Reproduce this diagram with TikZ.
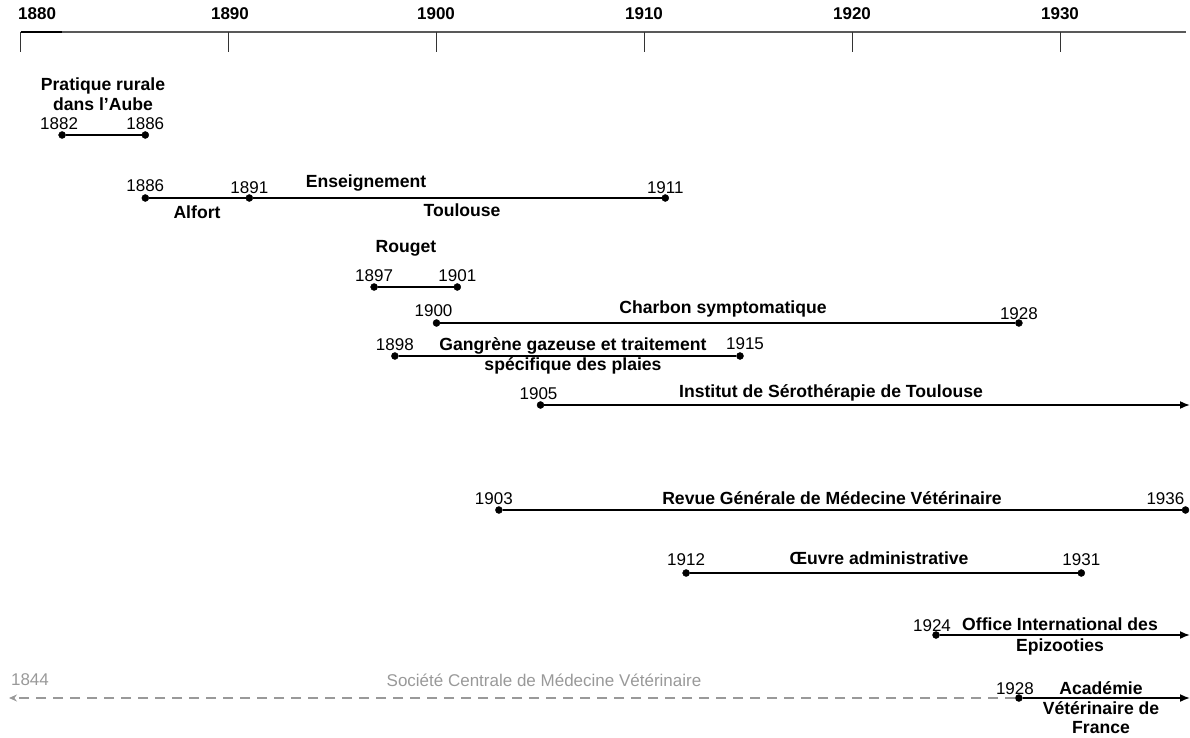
\documentclass[tikz,border=0pt]{standalone}
\usepackage{fontspec}
\setmainfont{Liberation Sans}
\usetikzlibrary{arrows.meta}
\tikzset{dot/.style = {draw, fill=black, circle, inner sep=0pt, minimum size=7pt},
         period/.style = {line width=1.7pt},
         yr/.style = {font=\fontsize{17}{20}\selectfont, inner sep=0pt},
         ttl/.style = {font=\fontsize{17.6}{20.5}\selectfont\bfseries, align=center, inner sep=0pt},
         axlbl/.style = {font=\fontsize{17}{20}\selectfont\bfseries, inner sep=0pt},
         soc/.style = {color=black!40, line width=1.7pt, dash pattern=on 10pt off 7pt}}

\begin{document}
\begin{tikzpicture}[x=1pt,y=-1pt]
        \useasboundingbox (0,0) rectangle (1190,738);
        % time axis
        \coordinate (ax0) at (20.5,32);
        \coordinate (ax1) at (62,32);
        \coordinate (ax2) at (1186,32);
        \draw[line width=1.5pt,black!65](ax0)--(ax2);
        \draw[line width=1.8pt](ax0)--(ax1);
        \foreach \yy/\xx in {1880/20.5,1890/228.5,1900/436.5,1910/644.3,1920/852.3,1930/1060.2}
            \draw[line width=0.9pt,black!80](\xx,32)--(\xx,52);
        \node[axlbl,anchor=west](a1880)at(18,14){1880};
        \foreach \yy/\xx in {1890/230,1900/436,1910/644,1920/852,1930/1060}
            \node[axlbl](a\yy)at(\xx,14){\yy};

        % Pratique rurale
        \node[dot](p82)at(62.1,135){};
        \node[dot](p86)at(145.3,135){};
        \draw[period](p82)--(p86);
        \node[yr,above=5pt,xshift=-3pt](lp82)at(p82){1882};
        \node[yr,above=5pt](lp86)at(p86){1886};
        \node[ttl](tp)at(103,94){Pratique rurale\\dans l’Aube};

        % Enseignement
        \node[dot](e86)at(145.3,198){};
        \node[dot](e91)at(249.3,198){};
        \node[dot](e11)at(665.3,198){};
        \draw[period](e86)--(e91);
        \draw[period](e91)--(e11);
        \node[yr,above=6pt](le86)at(e86){1886};
        \node[yr,above=4pt](le91)at(e91){1891};
        \node[yr,above=4pt](le11)at(e11){1911};
        \node[ttl](te)at(366,183){Enseignement};
        \node[ttl](ta)at(197,212){Alfort};
        \node[ttl](tt)at(462,210){Toulouse};

        % Rouget
        \node[dot](r97)at(374.1,287){};
        \node[dot](r01)at(457.3,287){};
        \draw[period](r97)--(r01);
        \node[yr,above=5pt](lr97)at(r97){1897};
        \node[yr,above=5pt](lr01)at(r01){1901};
        \node[ttl](tr)at(406,248){Rouget};

        % Charbon symptomatique
        \node[dot](c00)at(436.5,323){};
        \node[dot](c28)at(1018.9,323){};
        \draw[period](c00)--(c28);
        \node[yr,above=6pt,xshift=-3pt](lc00)at(c00){1900};
        \node[yr,above=3pt](lc28)at(c28){1928};
        \node[ttl](tc)at(723,309){Charbon symptomatique};

        % Gangrene gazeuse
        \node[dot](g98)at(394.9,356){};
        \node[dot](g15)at(740,356){};
        \draw[period](g98)--(g15);
        \node[yr,above=5pt](lg98)at(g98){1898};
        \node[yr,above=6pt,xshift=5pt](lg15)at(g15){1915};
        \node[ttl](tg)at(573,356){Gangrène gazeuse et traitement\\spécifique des plaies};

        % Institut de Serotherapie
        \node[dot](i05)at(540.5,405){};
        \coordinate(i99)at(1190,405);
        \draw[period,-{Latex[length=10pt,width=8pt]}](i05)--(i99);
        \node[yr,above=5pt,xshift=-2pt](li05)at(i05){1905};
        \node[ttl](ti)at(831,393){Institut de Sérothérapie de Toulouse};

        % Revue Generale
        \node[dot](v03)at(498.9,510){};
        \node[dot](v36)at(1185.5,510){};
        \draw[period](v03)--(v36);
        \node[yr,above=5pt,xshift=-5pt](lv03)at(v03){1903};
        \node[yr,above=5pt,anchor=south east,xshift=-1pt](lv36)at(v36){1936};
        \node[ttl](tv)at(832,498){Revue Générale de Médecine Vétérinaire};

        % Oeuvre administrative
        \node[dot](o12)at(686.1,573){};
        \node[dot](o31)at(1081.3,573){};
        \draw[period](o12)--(o31);
        \node[yr,above=7pt](lo12)at(o12){1912};
        \node[yr,above=7pt](lo31)at(o31){1931};
        \node[ttl](to)at(879,558){Œuvre administrative};

        % Office International des Epizooties
        \node[dot](x24)at(936,635){};
        \coordinate(x99)at(1190,635);
        \draw[period,-{Latex[length=10pt,width=8pt]}](x24)--(x99);
        \node[yr,above=3pt,xshift=-4pt](lx24)at(x24){1924};
        \node[ttl](tx)at(1060,636.5){Office International des\\Epizooties};

        % Societe Centrale / Academie
        \node[dot](k28)at(1018.9,698){};
        \coordinate(k99)at(1190,698);
        \coordinate(s44)at(9,698);
        \draw[soc,-{Stealth[length=8pt,width=7pt]}](k28)--(s44);
        \draw[period,-{Latex[length=10pt,width=8pt]}](k28)--(k99);
        \node[yr,above=3pt,xshift=-4pt](lk28)at(k28){1928};
        \node[yr,black!40](ls44)at(30,680){1844};
        \node[yr,black!40](ts)at(544,680){Société Centrale de Médecine Vétérinaire};
        \node[ttl,font=\fontsize{17.6}{19.5}\selectfont\bfseries](tk)at(1101,708){Académie\\Vétérinaire de\\France};
    \end{tikzpicture}
\end{document}
